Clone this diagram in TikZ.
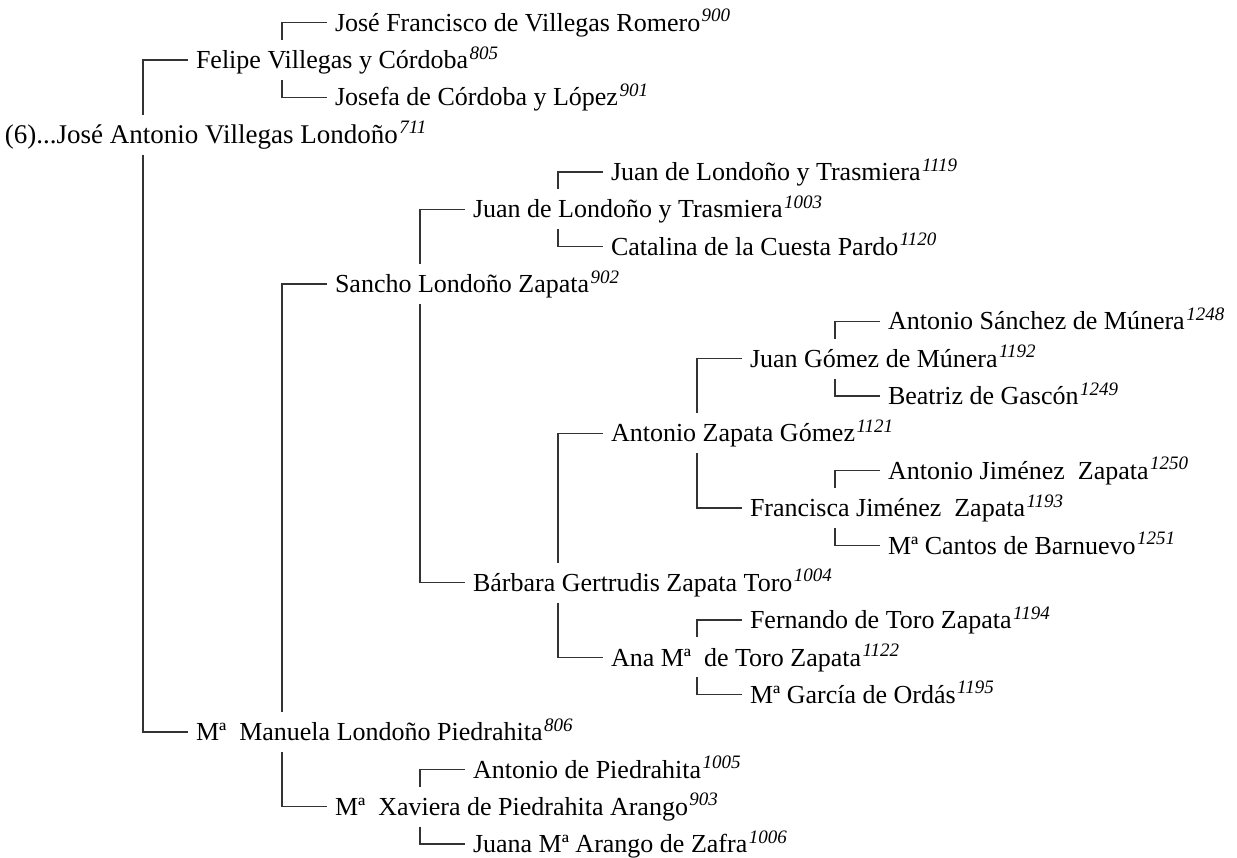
\documentclass[tikz,border=0pt]{standalone}
\usepackage{fontspec}
\setmainfont{Liberation Serif}
\usetikzlibrary{calc}
\newcommand\sups[1]{\kern1.5pt\raisebox{9.5pt}{\fontsize{19}{19}\selectfont\itshape #1}}
% child, father, mother
\newcommand\pedlink[3]{%
  \draw[link] ([xshift=-8pt]#2.west) -| ($(#2.west |- #1.west)+(-53pt,20pt)$);
  \draw[link] ($(#3.west |- #1.west)+(-53pt,-20pt)$) |- ([xshift=-8pt]#3.west);
}
\begin{document}
\begin{tikzpicture}[x=1pt,y=-1pt,
  person/.style={anchor=west, inner sep=0pt, outer sep=0pt, text height=24pt, text depth=6.8pt,
    font=\fontsize{26}{30}\selectfont},
  link/.style={line width=1.2pt, draw=black!80}]
\useasboundingbox (0,0) rectangle (1237,858);
\node[person] (p900)  at (335,22.7)  {José Francisco de Villegas Romero\sups{900}};
\node[person] (p805)  at (196,60.0)  {Felipe Villegas y Córdoba\sups{805}};
\node[person] (p901)  at (335,97.4)  {Josefa de Córdoba y López\sups{901}};
\node[person, font=\fontsize{27}{31}\selectfont] (p711) at (5,134.7) {(6)...José Antonio Villegas Londoño\sups{711}};
\node[person] (p1119) at (611,172.0) {Juan de Londoño y Trasmiera\sups{1119}};
\node[person] (p1003) at (473,209.4) {Juan de Londoño y Trasmiera\sups{1003}};
\node[person] (p1120) at (611,246.7) {Catalina de la Cuesta Pardo\sups{1120}};
\node[person] (p902)  at (335,284.0) {Sancho Londoño Zapata\sups{902}};
\node[person] (p1248) at (888,321.4) {Antonio Sánchez de Múnera\sups{1248}};
\node[person] (p1192) at (750,358.7) {Juan Gómez de Múnera\sups{1192}};
\node[person] (p1249) at (888,396.0) {Beatriz de Gascón\sups{1249}};
\node[person] (p1121) at (611,433.4) {Antonio Zapata Gómez\sups{1121}};
\node[person] (p1250) at (888,470.7) {Antonio Jiménez\ \ Zapata\sups{1250}};
\node[person] (p1193) at (750,508.0) {Francisca Jiménez\ \ Zapata\sups{1193}};
\node[person] (p1251) at (888,545.4) {Mª Cantos de Barnuevo\sups{1251}};
\node[person] (p1004) at (473,582.7) {Bárbara Gertrudis Zapata Toro\sups{1004}};
\node[person] (p1194) at (750,620.0) {Fernando de Toro Zapata\sups{1194}};
\node[person] (p1122) at (611,657.4) {Ana Mª\ \ de Toro Zapata\sups{1122}};
\node[person] (p1195) at (750,694.7) {Mª García de Ordás\sups{1195}};
\node[person] (p806)  at (196,732.0) {Mª\ \ Manuela Londoño Piedrahita\sups{806}};
\node[person] (p1005) at (473,769.4) {Antonio de Piedrahita\sups{1005}};
\node[person] (p903)  at (335,806.7) {Mª\ \ Xaviera de Piedrahita Arango\sups{903}};
\node[person] (p1006) at (473,844.0) {Juana Mª Arango de Zafra\sups{1006}};
\pedlink{p711}{p805}{p806}
\pedlink{p805}{p900}{p901}
\pedlink{p806}{p902}{p903}
\pedlink{p902}{p1003}{p1004}
\pedlink{p1003}{p1119}{p1120}
\pedlink{p1004}{p1121}{p1122}
\pedlink{p1121}{p1192}{p1193}
\pedlink{p1192}{p1248}{p1249}
\pedlink{p1193}{p1250}{p1251}
\pedlink{p1122}{p1194}{p1195}
\pedlink{p903}{p1005}{p1006}
\end{tikzpicture}
\end{document}
